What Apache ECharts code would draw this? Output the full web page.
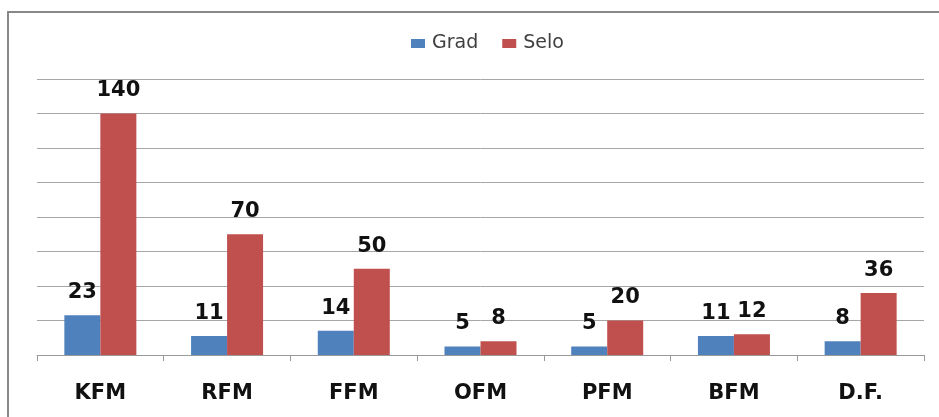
<!DOCTYPE html>
<html>
<head>
<meta charset="utf-8">
<script src="https://cdn.jsdelivr.net/npm/echarts@6/dist/echarts.min.js"></script>
<style>
html,body{margin:0;padding:0;background:#fff;}
#c{width:939px;height:417px;}
</style>
</head>
<body>
<div id="c"></div>
<script>
const categories = ['KFM', 'RFM', 'FFM', 'OFM', 'PFM', 'BFM', 'D.F.'];
const gradValues = [23, 11, 14, 5, 5, 11, 8];
const seloValues = [140, 70, 50, 8, 20, 12, 36];
const seriesNames = ['Grad', 'Selo'];

const chart = echarts.init(document.getElementById('c'), null, {renderer: 'canvas'});
const labelStyle = {
  show: true,
  position: 'top',
  distance: 12,
  fontFamily: 'DejaVu Sans',
  fontWeight: 'bold',
  fontSize: 21,
  color: '#111'
};
chart.setOption({
  animation: false,
  graphic: [{
    type: 'rect',
    shape: {x: 8, y: 12, width: 960, height: 440},
    style: {fill: 'none', stroke: '#888', lineWidth: 2},
    silent: true
  }],
  legend: {
    top: 29,
    left: 406,
    itemWidth: 14,
    itemHeight: 9,
    itemGap: 24,
    icon: 'rect',
    textStyle: {fontFamily: 'DejaVu Sans', fontSize: 19, color: '#404040', padding: [0, 0, 0, 2]}
  },
  grid: {left: 37, right: 15, top: 79, bottom: 62},
  xAxis: {
    type: 'category',
    data: categories,
    axisLine: {lineStyle: {color: '#9a9a9a', width: 1}},
    axisTick: {show: true, length: 6, lineStyle: {color: '#9a9a9a'}},
    axisLabel: {
      margin: 28,
      fontFamily: 'DejaVu Sans',
      fontWeight: 'bold',
      fontSize: 21,
      color: '#111'
    }
  },
  yAxis: {
    type: 'value',
    min: 0,
    max: 160,
    interval: 20,
    axisLabel: {show: false},
    axisLine: {show: false},
    axisTick: {show: false},
    splitLine: {lineStyle: {color: '#a6a6a6', width: 1}}
  },
  series: [
    {
      name: seriesNames[0],
      type: 'bar',
      data: gradValues,
      barWidth: 36,
      barGap: '0%',
      itemStyle: {color: '#4F81BD'},
      label: labelStyle
    },
    {
      name: seriesNames[1],
      type: 'bar',
      data: seloValues,
      barWidth: 36,
      barGap: '0%',
      itemStyle: {color: '#C0504D'},
      label: labelStyle
    }
  ]
});
</script>
</body>
</html>
